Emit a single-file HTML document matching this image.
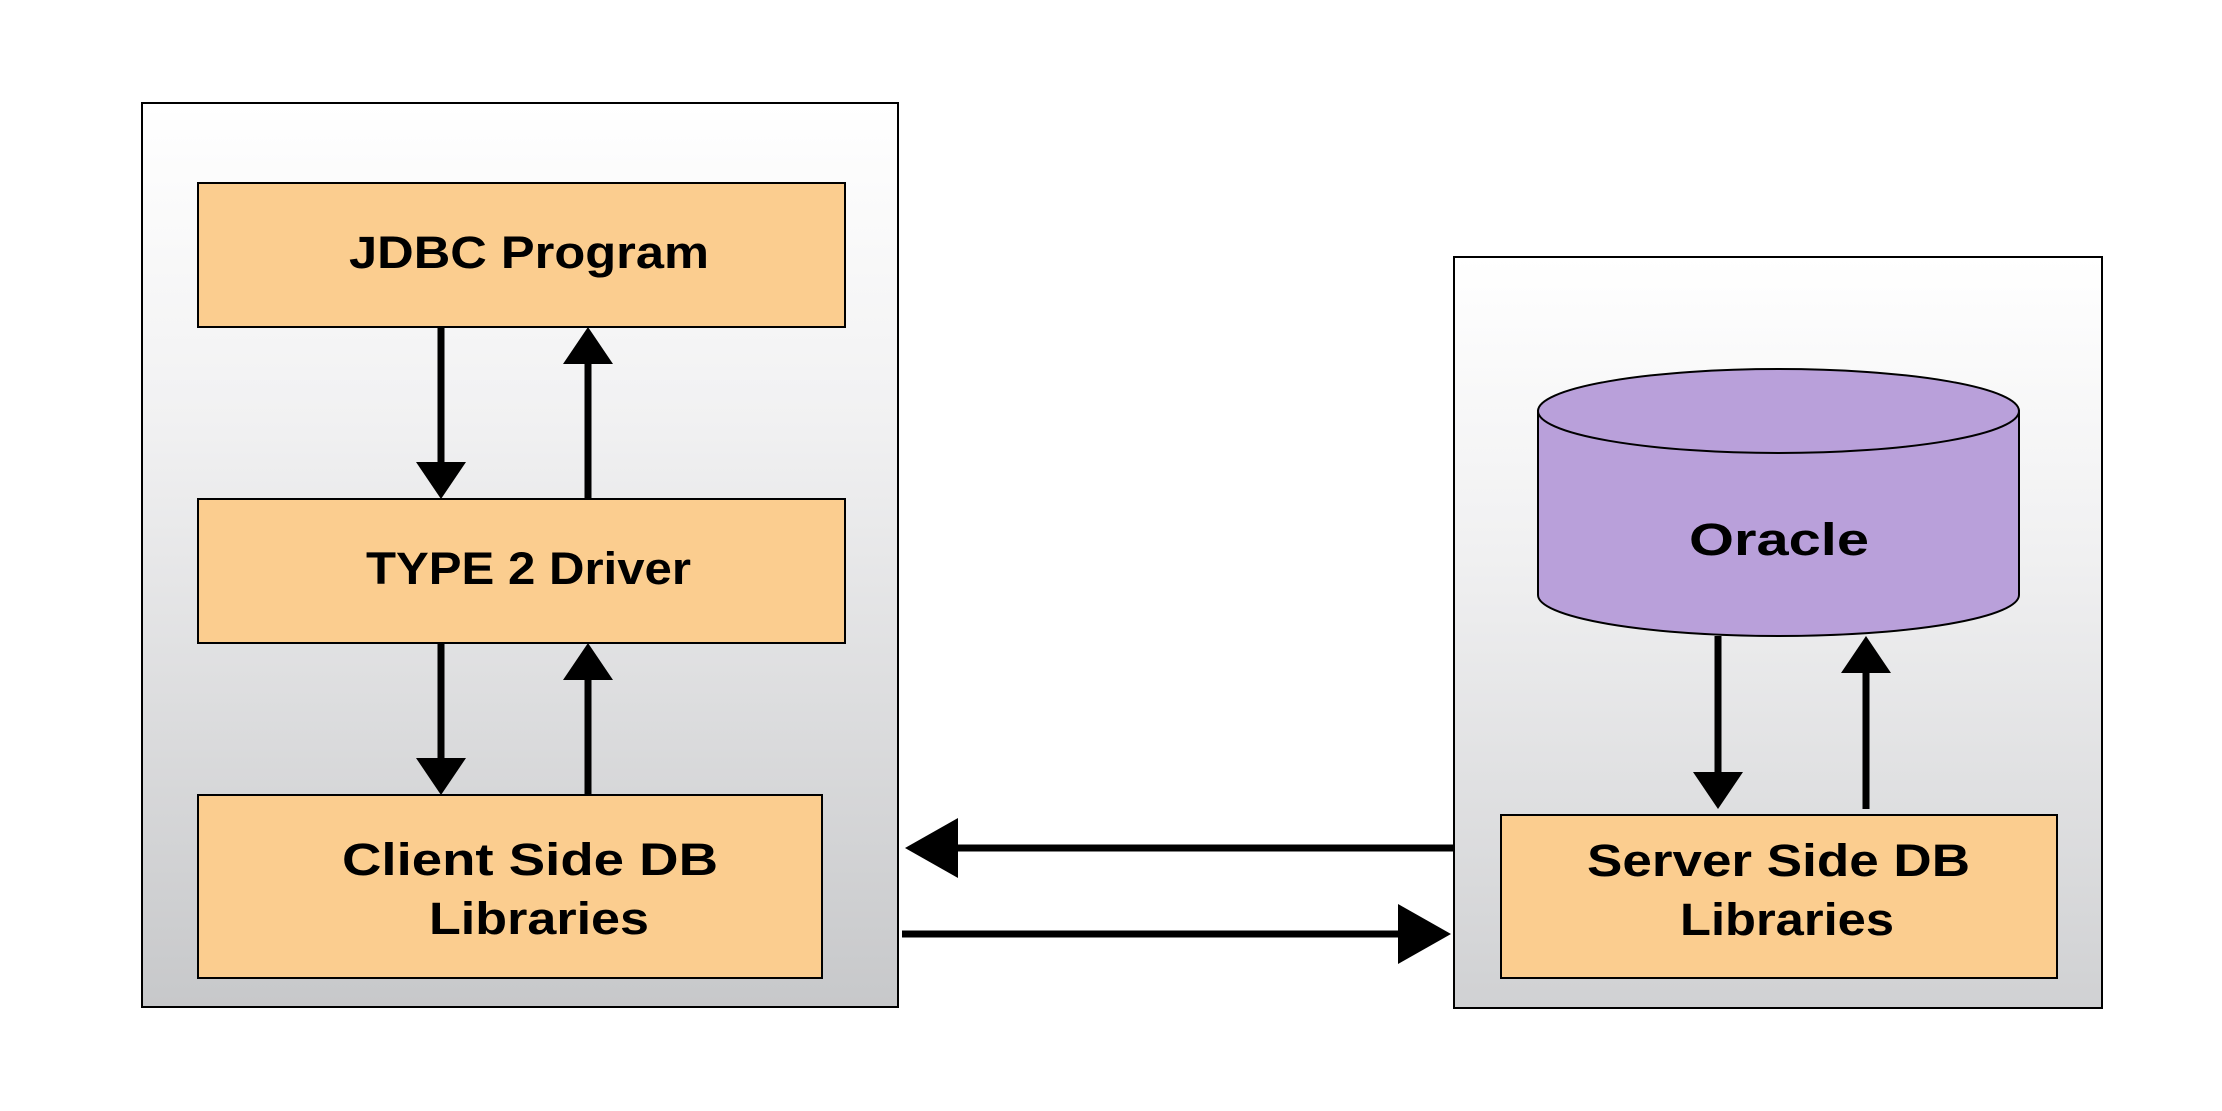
<!DOCTYPE html>
<html><head><meta charset="utf-8"><style>
html,body{margin:0;padding:0;background:#fff;}
svg{display:block;}
text{font-family:"Liberation Sans",Arial,sans-serif;font-weight:bold;font-size:45px;fill:#000;}
</style></head><body>
<svg width="2222" height="1111" viewBox="0 0 2222 1111" xmlns="http://www.w3.org/2000/svg">
<defs>
<linearGradient id="g" x1="0" y1="0" x2="0" y2="1">
<stop offset="0" stop-color="#ffffff"/>
<stop offset="0.35" stop-color="#f1f1f2"/>
<stop offset="1" stop-color="#c7c8ca"/>
</linearGradient>
<linearGradient id="g2" x1="0" y1="0" x2="0" y2="1">
<stop offset="0" stop-color="#ffffff"/>
<stop offset="0.4" stop-color="#f0f0f1"/>
<stop offset="1" stop-color="#d0d1d3"/>
</linearGradient>
</defs>
<rect x="142" y="103" width="756" height="904" fill="url(#g)" stroke="#000" stroke-width="2"/>
<rect x="1454" y="257" width="648" height="751" fill="url(#g2)" stroke="#000" stroke-width="2"/>

<rect x="198" y="183" width="647" height="144" fill="#fbcd8f" stroke="#000" stroke-width="2"/>
<rect x="198" y="499" width="647" height="144" fill="#fbcd8f" stroke="#000" stroke-width="2"/>
<rect x="198" y="795" width="624" height="183" fill="#fbcd8f" stroke="#000" stroke-width="2"/>
<rect x="1501" y="815" width="556" height="163" fill="#fbcd8f" stroke="#000" stroke-width="2"/>

<text x="349" y="268" textLength="360" lengthAdjust="spacingAndGlyphs">JDBC Program</text>
<text x="366" y="584" textLength="325" lengthAdjust="spacingAndGlyphs">TYPE 2 Driver</text>
<text x="342" y="875" textLength="376" lengthAdjust="spacingAndGlyphs">Client Side DB</text>
<text x="429" y="934" textLength="220" lengthAdjust="spacingAndGlyphs">Libraries</text>
<text x="1587" y="876" textLength="383" lengthAdjust="spacingAndGlyphs">Server Side DB</text>
<text x="1680" y="935" textLength="214" lengthAdjust="spacingAndGlyphs">Libraries</text>

<path d="M1538,411 L1538,595 A240.5,41 0 0 0 2019,595 L2019,411 Z" fill="#b9a0da" stroke="#000" stroke-width="2"/>
<ellipse cx="1778.5" cy="411" rx="240.5" ry="42" fill="#b9a0da" stroke="#000" stroke-width="2"/>
<text x="1689" y="555" textLength="180" lengthAdjust="spacingAndGlyphs">Oracle</text>

<g fill="#000" stroke="#000">
<line x1="441" y1="327" x2="441" y2="465" stroke-width="7"/>
<polygon points="416,462 466,462 441,499" stroke="none"/>
<line x1="588" y1="499" x2="588" y2="360" stroke-width="7"/>
<polygon points="563,364 613,364 588,327" stroke="none"/>
<line x1="441" y1="643" x2="441" y2="760" stroke-width="7"/>
<polygon points="416,758 466,758 441,795" stroke="none"/>
<line x1="588" y1="795" x2="588" y2="676" stroke-width="7"/>
<polygon points="563,680 613,680 588,643" stroke="none"/>
<line x1="1718" y1="636" x2="1718" y2="775" stroke-width="7"/>
<polygon points="1693,772 1743,772 1718,809" stroke="none"/>
<line x1="1866" y1="809" x2="1866" y2="670" stroke-width="7"/>
<polygon points="1841,673 1891,673 1866,636" stroke="none"/>
<line x1="955" y1="848" x2="1454" y2="848" stroke-width="7"/>
<polygon points="905,848 958,818 958,878" stroke="none"/>
<line x1="902" y1="934" x2="1400" y2="934" stroke-width="7"/>
<polygon points="1451,934 1398,904 1398,964" stroke="none"/>
</g>
</svg>
</body></html>
